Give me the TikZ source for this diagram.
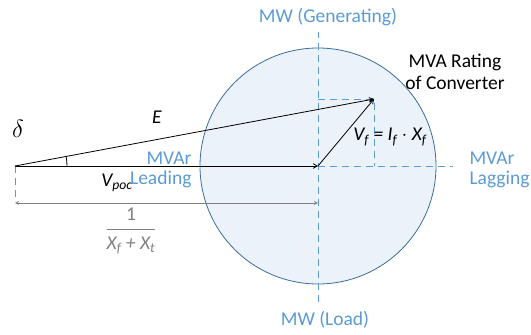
\documentclass[tikz,border=0pt]{standalone}
\usepackage{amsmath}
\usepackage{fontspec}
\setmainfont{Carlito}
\usepackage{xcolor}
\usetikzlibrary{arrows}
\definecolor{axisblue}{HTML}{5B9BD5}
\definecolor{rimblue}{HTML}{3A6D9E}
\definecolor{discfill}{HTML}{EBF2FA}
\tikzset{
  lbl/.style={font=\fontsize{19.5}{22}\selectfont},
  bluelbl/.style={lbl,text=axisblue},
  axis/.style={axisblue,dashed,dash pattern=on 7pt off 5pt,thick},
  phasor/.style={->,thick,>=angle 60},
}

\begin{document}
\begin{tikzpicture}[x=1pt,y=1pt]
        \useasboundingbox (0,0) rectangle (531,335);
        % disc of the converter rating
        \coordinate (O) at (318,169);
        \fill[discfill,draw=rimblue,thick] (O) circle (118);
        % axes
        \coordinate (top) at (318,33);
        \coordinate (bot) at (318,303);
        \coordinate (rgt) at (453,169);
        \draw[axis] (top) -- (bot);
        \draw[axis] (O) -- (rgt);
        % phasors
        \coordinate (A) at (15,169);
        \coordinate (P) at (374,236);
        \coordinate (Px) at (318,236);
        \coordinate (Py) at (374,169);
        \draw[axis] (Px) -- (P) -- (Py);
        \coordinate (Ad) at (15,133);
        \draw[axis] (A) -- (Ad);
        \draw[phasor] (A) -- (O);
        \draw[phasor] (A) -- (P);
        \draw[phasor] (O) -- (P);
        \draw[thick] ([shift={(0:52)}]A) arc (0:10.6:52);
        % reactance span
        \coordinate (L1) at (15,132);
        \coordinate (L2) at (318,132);
        \draw[<->,>=stealth,gray,thick] (L1) -- (L2);
        % labels
        \node[lbl,gray] (frac) at (131,104) {\(\dfrac{\mbox{1}}{\mbox{\itshape X\textsubscript{f} + X\textsubscript{t}}}\)};
        \node[font=\fontsize{30}{32}\selectfont] (delta) at (18,206) {\(\delta\)};
        \node[lbl] (E) at (157,218) {\itshape E};
        \node[lbl] (Vpoc) at (117,152) {\itshape V\textsubscript{poc}};
        \node[lbl] (Vf) at (390,198) {\itshape V\textsubscript{f} = I\textsubscript{f} $\cdot$ X\textsubscript{f}};
        \node[bluelbl,anchor=east] (lead1) at (195,177) {MVAr};
        \node[bluelbl,anchor=east] (lead2) at (195,156) {Leading};
        \node[bluelbl,anchor=west] (lag1) at (466,177) {MVAr};
        \node[bluelbl,anchor=west] (lag2) at (466,156) {Lagging};
        \node[bluelbl] (gen) at (328,318) {MW (Generating)};
        \node[bluelbl] (load) at (325,15) {MW (Load)};
        \node[lbl,align=center] (rating) at (455,263) {MVA Rating\\of Converter};
    \end{tikzpicture}
\end{document}
